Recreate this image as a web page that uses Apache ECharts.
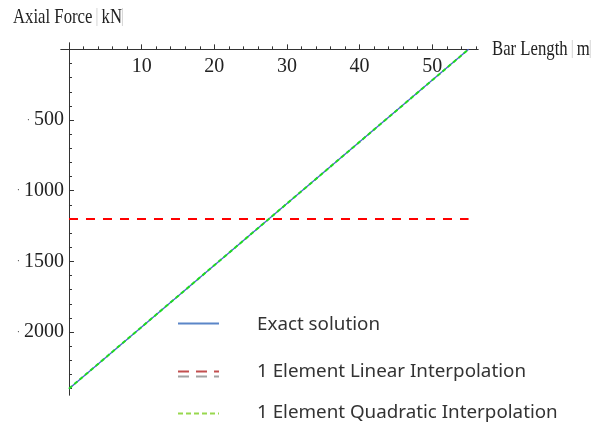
<!DOCTYPE html>
<html>
<head>
<meta charset="utf-8">
<title>Axial Force along the Bar</title>
<script src="https://cdn.jsdelivr.net/npm/echarts@6/dist/echarts.min.js"></script>
<style>
  html, body { margin: 0; padding: 0; background: #ffffff; }
  #chart { width: 611px; height: 427px; }
</style>
</head>
<body>
<div id="chart"></div>
<script>
// Bar length positions (m) and axial force values (kN)
const barLength = [0, 55];
const exactForce = [-2400, 0];
const linearForce = [-1200, -1200];
const quadraticForce = [-2400, 0];

// Tick positions and labels
const xMajorTicks = [10, 20, 30, 40, 50];
const xMinorTicks = [2, 4, 6, 8, 12, 14, 16, 18, 22, 24, 26, 28, 32, 34, 36, 38, 42, 44, 46, 48, 52, 54, 56];
const yMajorTicks = [-500, -1000, -1500, -2000];
const yMinorTicks = [-100, -200, -300, -400, -600, -700, -800, -900, -1100, -1200, -1300, -1400,
  -1600, -1700, -1800, -1900, -2100, -2200, -2300, -2400];

// Legend entries
const legendNames = ['Exact solution', '1 Element Linear Interpolation', '1 Element Quadratic Interpolation'];

const pairs = (xs, ys) => xs.map((x, i) => [x, ys[i]]);

const axisColor = '#333333';
const serif = '"Liberation Serif", "Times New Roman", serif';
const sans = '"Noto Sans", sans-serif';

// Plot frame and axis ranges; the axes cross at the origin inside the frame
const W = 611, H = 427;
const grid = { left: 61, right: 133, top: 43, bottom: 32 };
const xRange = [-1.1, 56.3];
const yRange = [-2445, 45];
const gridW = W - grid.left - grid.right;
const gridH = H - grid.top - grid.bottom;
const xAxisShift = -gridH * yRange[1] / (yRange[1] - yRange[0]);   // move top axis down to y = 0
const yAxisShift = -gridW * (0 - xRange[0]) / (xRange[1] - xRange[0]); // move left axis right to x = 0

const chart = echarts.init(document.getElementById('chart'), null, { renderer: 'canvas' });

const baseX = {
  type: 'value', min: xRange[0], max: xRange[1], position: 'top', offset: xAxisShift,
  axisLine: { show: true, onZero: false, lineStyle: { color: axisColor, width: 1 } },
  splitLine: { show: false }
};
const baseY = {
  type: 'value', min: yRange[0], max: yRange[1], position: 'left', offset: yAxisShift,
  axisLine: { show: true, onZero: false, lineStyle: { color: axisColor, width: 1 } },
  splitLine: { show: false }
};

chart.setOption({
  animation: false,
  backgroundColor: '#ffffff',
  grid: Object.assign({ containLabel: false }, grid),
  xAxis: [
    Object.assign({}, baseX, {
      axisTick: { show: true, inside: false, length: 5, customValues: xMajorTicks, lineStyle: { color: axisColor } },
      axisLabel: {
        show: true, inside: true, customValues: xMajorTicks, margin: 7,
        fontFamily: serif, fontSize: 20, color: '#222222'
      }
    }),
    Object.assign({}, baseX, {
      axisTick: { show: true, inside: false, length: 3, customValues: xMinorTicks, lineStyle: { color: axisColor } },
      axisLabel: { show: false }
    })
  ],
  yAxis: [
    Object.assign({}, baseY, {
      axisTick: { show: true, inside: true, length: 5, customValues: yMajorTicks, lineStyle: { color: axisColor } },
      axisLabel: {
        show: true, customValues: yMajorTicks, margin: 5,
        fontFamily: serif, fontSize: 20, color: '#222222',
        formatter: v => '{d|·}{g|}' + Math.abs(v),
        rich: { d: { fontSize: 10, color: '#444444', fontFamily: serif }, g: { width: 4 } }
      }
    }),
    Object.assign({}, baseY, {
      axisTick: { show: true, inside: true, length: 3, customValues: yMinorTicks, lineStyle: { color: axisColor } },
      axisLabel: { show: false }
    })
  ],
  series: [
    {
      name: legendNames[0], type: 'line', xAxisIndex: 0, yAxisIndex: 0,
      data: pairs(barLength, exactForce), showSymbol: false, z: 2,
      lineStyle: { color: '#4a5fd0', width: 1.3 }
    },
    {
      name: legendNames[1], type: 'line', xAxisIndex: 0, yAxisIndex: 0,
      data: pairs(barLength, linearForce), showSymbol: false, z: 3,
      lineStyle: { color: '#ff0000', width: 2.2, type: [9, 8] }
    },
    {
      name: legendNames[2], type: 'line', xAxisIndex: 0, yAxisIndex: 0,
      data: pairs(barLength, quadraticForce), showSymbol: false, z: 4,
      lineStyle: { color: '#1fdc1f', width: 2, type: [4, 3] }
    }
  ],
  graphic: [
    // axis titles (narrow serif)
    {
      type: 'text', x: 13, y: 17, scaleX: 0.76,
      style: {
        text: 'Axial Force {b|} kN{b|}', fontFamily: serif, fontSize: 22, fill: '#222222',
        verticalAlign: 'middle',
        rich: { b: { width: 1, height: 18, backgroundColor: '#c8c8c8' } }
      }
    },
    {
      type: 'text', x: 492, y: 49, scaleX: 0.76,
      style: {
        text: 'Bar Length {b|} m{b|}', fontFamily: serif, fontSize: 22, fill: '#222222',
        verticalAlign: 'middle',
        rich: { b: { width: 1, height: 18, backgroundColor: '#c8c8c8' } }
      }
    },
    // legend swatches
    { type: 'line', shape: { x1: 178, y1: 323.5, x2: 219, y2: 323.5 }, style: { stroke: '#5b86c8', lineWidth: 2 } },
    { type: 'line', shape: { x1: 178, y1: 376.5, x2: 219, y2: 376.5 }, style: { stroke: '#a2a2a2', lineWidth: 2, lineDash: [11, 7] } },
    { type: 'line', shape: { x1: 178, y1: 371.5, x2: 219, y2: 371.5 }, style: { stroke: '#c24f4f', lineWidth: 2.2, lineDash: [11, 7] } },
    { type: 'line', shape: { x1: 178, y1: 413.5, x2: 219, y2: 413.5 }, style: { stroke: '#98d84e', lineWidth: 2, lineDash: [5, 3] } },
    // legend labels
    { type: 'text', x: 257, y: 325, style: { text: legendNames[0], fontFamily: sans, fontSize: 18.8, fill: '#333333', verticalAlign: 'middle' } },
    { type: 'text', x: 257, y: 372, style: { text: legendNames[1], fontFamily: sans, fontSize: 18.8, fill: '#333333', verticalAlign: 'middle' } },
    { type: 'text', x: 257, y: 413, style: { text: legendNames[2], fontFamily: sans, fontSize: 18.8, fill: '#333333', verticalAlign: 'middle' } }
  ]
});
</script>
</body>
</html>
